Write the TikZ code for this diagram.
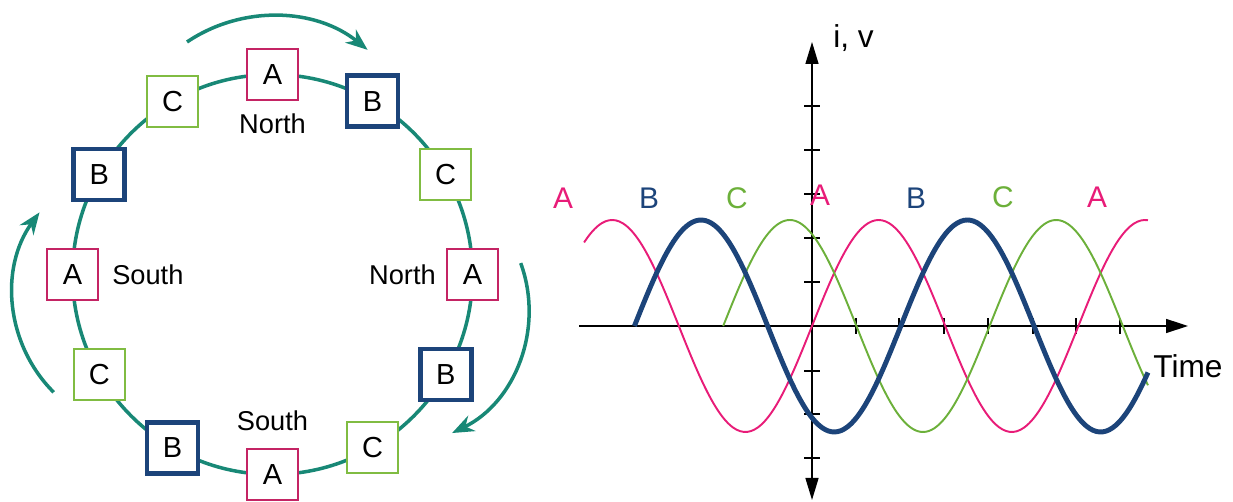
\documentclass[tikz,border=0pt]{standalone}
\usepackage{fontspec}
\setmainfont{Liberation Sans}
\usetikzlibrary{positioning, arrows.meta, calc}
\definecolor{phaseApink}{RGB}{232,28,120}
\definecolor{boxApink}{RGB}{196,36,100}
\definecolor{phaseBnavy}{RGB}{28,68,122}
\definecolor{phaseCgreen}{RGB}{108,176,58}
\definecolor{boxCgreen}{RGB}{128,188,66}
\definecolor{rotorteal}{RGB}{24,136,118}
\tikzset{
  coilA/.style={rectangle, draw=boxApink, line width=1.2pt, fill=white, minimum size=1.02cm, inner sep=0pt, font=\fontsize{16.5}{19}\selectfont},
  coilB/.style={rectangle, draw=phaseBnavy, line width=2.7pt, fill=white, minimum size=1.02cm, inner sep=0pt, font=\fontsize{16.5}{19}\selectfont},
  coilC/.style={rectangle, draw=boxCgreen, line width=1.2pt, fill=white, minimum size=1.02cm, inner sep=0pt, font=\fontsize{16.5}{19}\selectfont},
  pole/.style={font=\fontsize{15.5}{18}\selectfont},
  spin/.style={draw=rotorteal, line width=2pt, -{Stealth[length=0.44cm, width=0.34cm]}},
  wave/.style={smooth, samples=160},
  axisline/.style={line width=0.8pt},
  tag/.style={font=\fontsize{17}{20}\selectfont, anchor=base},
  axislabel/.style={font=\fontsize{18}{21}\selectfont, anchor=base west, inner sep=0pt}
}
\begin{document}
\begin{tikzpicture}[x=0.02cm, y=0.02cm]
  \useasboundingbox (0,0) rectangle (1233,502);

  % Stator ring
  \coordinate (ring) at (272.5,227.5);
  \draw[rotorteal, line width=2pt] (ring) circle[radius=4cm];

  % Coils around the ring
  \node (coilA1) [coilA] at ($(ring)+(90:200)$) {A};
  \node (coilB1) [coilB] at ($(ring)+(60:200)$) {B};
  \node (coilC1) [coilC] at ($(ring)+(30:200)$) {C};
  \node (coilA2) [coilA] at ($(ring)+(0:200)$) {A};
  \node (coilB2) [coilB] at ($(ring)+(-30:200)$) {B};
  \node (coilC2) [coilC] at ($(ring)+(-60:200)$) {C};
  \node (coilA3) [coilA] at ($(ring)+(-90:200)$) {A};
  \node (coilB3) [coilB] at ($(ring)+(-120:200)$) {B};
  \node (coilC3) [coilC] at ($(ring)+(-150:200)$) {C};
  \node (coilA4) [coilA] at ($(ring)+(180:200)$) {A};
  \node (coilB4) [coilB] at ($(ring)+(150:200)$) {B};
  \node (coilC4) [coilC] at ($(ring)+(120:200)$) {C};

  % Poles
  \node (poleN1) [pole, below=0.13cm of coilA1] {North};
  \node (poleN2) [pole, left=0.08cm of coilA2] {North};
  \node (poleS1) [pole, above=0.22cm of coilA3] {South};
  \node (poleS2) [pole, right=0.14cm of coilA4] {South};

  % Rotation
  \coordinate (spinTop) at (187,460);
  \coordinate (spinRight) at (520.7,238.9);
  \coordinate (spinLeft) at (53.7,109.7);
  \draw[spin] (spinTop) arc[start angle=124, end angle=51, radius=3.04cm];
  \draw[spin] (spinRight) arc[start angle=20, end angle=-64, radius=2.74cm];
  \draw[spin] (spinLeft) arc[start angle=225, end angle=144, radius=2.78cm];

  % Axes
  \coordinate (origin) at (812,176);
  \draw[axisline, -{Triangle[length=0.44cm, width=0.28cm]}] (579,176) -- (1188,176);
  \draw[axisline, {Triangle[length=0.44cm, width=0.26cm]}-{Triangle[length=0.44cm, width=0.26cm]}] (812,2) -- (812,460);
  \draw[axisline] (804,396) -- (820,396) (804,352) -- (820,352) (804,308) -- (820,308)
    (804,264) -- (820,264) (804,220) -- (820,220) (804,131) -- (820,131)
    (804,88) -- (820,88) (804,44) -- (820,44);
  \draw[axisline] (856,168) -- (856,184) (899,168) -- (899,184) (944,168) -- (944,184)
    (988,168) -- (988,184) (1033,168) -- (1033,184) (1076,168) -- (1076,184)
    (1120,168) -- (1120,184);

  % Phase currents
  \draw[wave, phaseApink, line width=1.1pt] plot[domain=-308:454] ({812+0.74*\x},{176+106*sin(\x)});
  \draw[wave, phaseCgreen, line width=1.1pt] plot[domain=-120:454] ({812+0.74*\x},{176+106*sin(\x+120)});
  \draw[wave, phaseBnavy, line width=2.8pt] plot[domain=-240:454] ({812+0.74*\x},{176+106*sin(\x-120)});

  % Labels
  \node (tagA1) [tag, text=phaseApink] at (563,293) {A};
  \node (tagB1) [tag, text=phaseBnavy] at (649,293) {B};
  \node (tagC1) [tag, text=phaseCgreen] at (737,293) {C};
  \node (tagA2) [tag, text=phaseApink] at (820,296) {A};
  \node (tagB2) [tag, text=phaseBnavy] at (916,293) {B};
  \node (tagC2) [tag, text=phaseCgreen] at (1003,294) {C};
  \node (tagA3) [tag, text=phaseApink] at (1097,294) {A};
  \node (ylabel) [axislabel] at (833,454) {i, v};
  \node (xlabel) [axislabel] at (1153,124) {Time};
\end{tikzpicture}
\end{document}
